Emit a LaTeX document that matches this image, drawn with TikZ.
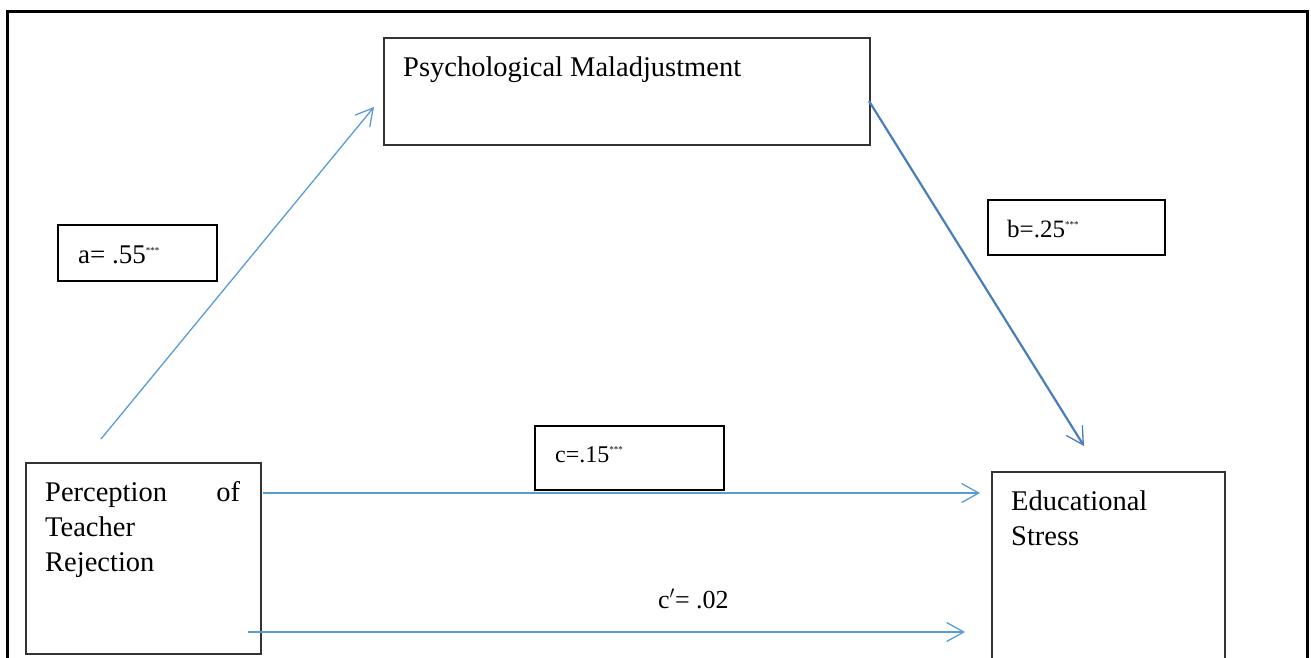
\documentclass[tikz,border=0pt]{standalone}
\usepackage{fontspec}
\setmainfont{Liberation Serif}
\usetikzlibrary{arrows.meta}
\definecolor{pathblue}{HTML}{5B9BD5}
\definecolor{pathdark}{HTML}{4A7EBB}
\tikzset{
  varbox/.style={draw=black!80, line width=1.5pt, anchor=north west, inner sep=0pt},
  coefbox/.style={draw=black, line width=2pt, anchor=north west, inner sep=0pt},
  vartext/.style={anchor=base west, inner sep=0pt, font=\fontsize{28.5}{35}\selectfont},
  path/.style={draw=pathblue, line width=1.3pt, -{Straight Barb[length=17pt,width=19pt,line width=1.3pt]}},
}
\begin{document}
\begin{tikzpicture}[x=1pt,y=-1pt]
  \useasboundingbox (0,0) rectangle (1311,657);
  % outer frame
  \draw[line width=3pt] (7,700) -- (7,11) -- (1307,11) -- (1307,700);
  % variables
  \node[varbox, minimum width=486pt, minimum height=107pt] (psych) at (383,37) {};
  \node[vartext] (psychtxt) at (403,76) {Psychological Maladjustment};
  \node[varbox, minimum width=235pt, minimum height=191pt] (perc) at (25,462) {};
  \node[vartext, anchor=north west, text width=195pt, align=left] (perctxt) at (45,481)
    {Perception\hfill of\\Teacher\\Rejection};
  \node[varbox, minimum width=233pt, minimum height=220pt] (edu) at (991,471) {};
  \node[vartext, anchor=north west, text width=200pt, align=left] (edutxt) at (1011,491)
    {Educational\\Stress};
  % coefficients
  \node[coefbox, minimum width=159pt, minimum height=56pt] (abox) at (57,224) {};
  \node[anchor=base west, inner sep=0pt, font=\fontsize{27}{30}\selectfont] (alab) at (78,263)
    {a= .55\textsuperscript{\fontsize{9}{10}\selectfont***}};
  \node[coefbox, minimum width=177pt, minimum height=55pt] (bbox) at (987,199) {};
  \node[anchor=base west, inner sep=0pt, font=\fontsize{25}{30}\selectfont] (blab) at (1007,237)
    {b=.25\textsuperscript{\fontsize{9}{10}\selectfont***}};
  \node[coefbox, minimum width=189pt, minimum height=64pt] (cbox) at (534,425) {};
  \node[anchor=base west, inner sep=0pt, font=\fontsize{24}{30}\selectfont] (clab) at (555,462)
    {c=.15\textsuperscript{\fontsize{9}{10}\selectfont***}};
  \node[anchor=base west, inner sep=0pt, font=\fontsize{26}{30}\selectfont] (cplab) at (658,608)
    {c$'$= .02};
  % path ends
  \coordinate (a0) at (101,439);
  \coordinate (a1) at (374,107);
  \coordinate (b0) at (869,101);
  \coordinate (b1) at (1084,446);
  \coordinate (c0) at (263,493);
  \coordinate (c1) at (980,493);
  \coordinate (d0) at (248,632);
  \coordinate (d1) at (965,632);
  % paths
  \draw[path] (a0) -- (a1);
  \draw[path, draw=pathdark, line width=2.2pt] (b0) -- (b1);
  \draw[path] (c0) -- (c1);
  \draw[path] (d0) -- (d1);
\end{tikzpicture}
\end{document}
